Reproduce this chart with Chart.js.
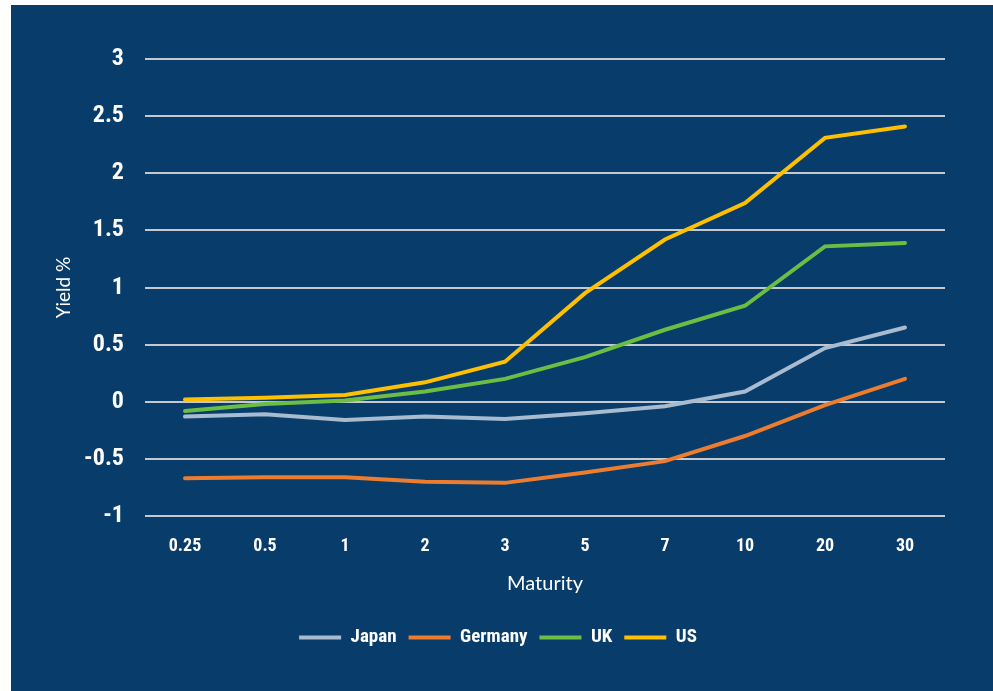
<!DOCTYPE html>
<html>
<head>
<meta charset="utf-8">
<title>Government bond yield curves</title>
<script src="https://cdn.jsdelivr.net/npm/chart.js@4/dist/chart.umd.min.js"></script>
<style>
  html, body { margin: 0; padding: 0; background: #ffffff; }
  #panel {
    position: absolute; left: 11px; top: 5px;
    width: 982px; height: 686px;
    background: #083c6b;
  }
  #panel canvas { display: block; }
</style>
</head>
<body>
<div id="panel"><canvas id="curves" width="982" height="686"></canvas></div>
<script>
// maturities in years (category axis)
const maturities = ['0.25', '0.5', '1', '2', '3', '5', '7', '10', '20', '30']

// yields in %
const japan   = [-0.13, -0.11, -0.16, -0.13, -0.15, -0.10, -0.04, 0.09, 0.47, 0.65]
const germany = [-0.67, -0.66, -0.66, -0.70, -0.71, -0.62, -0.52, -0.30, -0.03, 0.20]
const uk      = [-0.08, -0.02, 0.01, 0.09, 0.20, 0.39, 0.63, 0.84, 1.36, 1.39]
const us      = [0.02, 0.035, 0.06, 0.17, 0.35, 0.95, 1.42, 1.74, 2.31, 2.41]

const yTicks = [-1, -0.5, 0, 0.5, 1, 1.5, 2, 2.5, 3]

const narrow = "'Roboto Condensed', 'Open Sans', sans-serif"
const plain = "Lato, 'Open Sans', sans-serif"

const serie = (label, data, color) => ({
  label: label,
  data: data,
  borderColor: color,
  backgroundColor: color,
  borderWidth: 4,
  borderCapStyle: 'round',
  borderJoinStyle: 'miter',
  pointRadius: 0,
  tension: 0
})

const ctx = document.getElementById('curves')
new Chart(ctx, {
  type: 'line',
  data: {
    labels: maturities,
    datasets: [
      serie('Japan', japan, '#a8bbcf'),
      serie('Germany', germany, '#ec7c30'),
      serie('UK', uk, '#6cbd44'),
      serie('US', us, '#ffc000')
    ]
  },
  options: {
    responsive: false,
    animation: false,
    layout: { padding: { left: 40, right: 48, top: 54, bottom: 34 } },
    plugins: {
      tooltip: { enabled: false },
      legend: {
        position: 'bottom',
        labels: {
          color: '#ffffff',
          font: { family: narrow, size: 19, weight: 'bold' },
          usePointStyle: true,
          pointStyle: 'line',
          pointStyleWidth: 42,
          boxHeight: 19,
          padding: 12
        }
      }
    },
    scales: {
      x: {
        offset: true,
        grid: { display: false },
        border: { display: false },
        ticks: {
          color: '#ffffff',
          font: { family: narrow, size: 18, weight: 'bold' },
          padding: 12,
          maxRotation: 0
        },
        title: {
          display: true,
          text: 'Maturity',
          color: '#ffffff',
          font: { family: plain, size: 20 },
          padding: { top: 10, bottom: 20 }
        },
        afterFit: (scale) => { scale.height = 100 }
      },
      y: {
        min: -1,
        max: 3,
        afterBuildTicks: (scale) => { scale.ticks = yTicks.map(v => ({ value: v })) },
        grid: { color: '#c3c9cf', lineWidth: 2, drawTicks: false },
        border: { display: false },
        ticks: {
          color: '#ffffff',
          font: { family: narrow, size: 24, weight: 'bold' },
          padding: 21,
          callback: (v) => String(v)
        },
        title: {
          display: true,
          text: 'Yield %',
          color: '#ffffff',
          font: { family: plain, size: 19 },
          padding: { top: 1, bottom: 0 }
        },
        afterFit: (scale) => { scale.width = 94 }
      }
    }
  }
})
</script>
</body>
</html>
